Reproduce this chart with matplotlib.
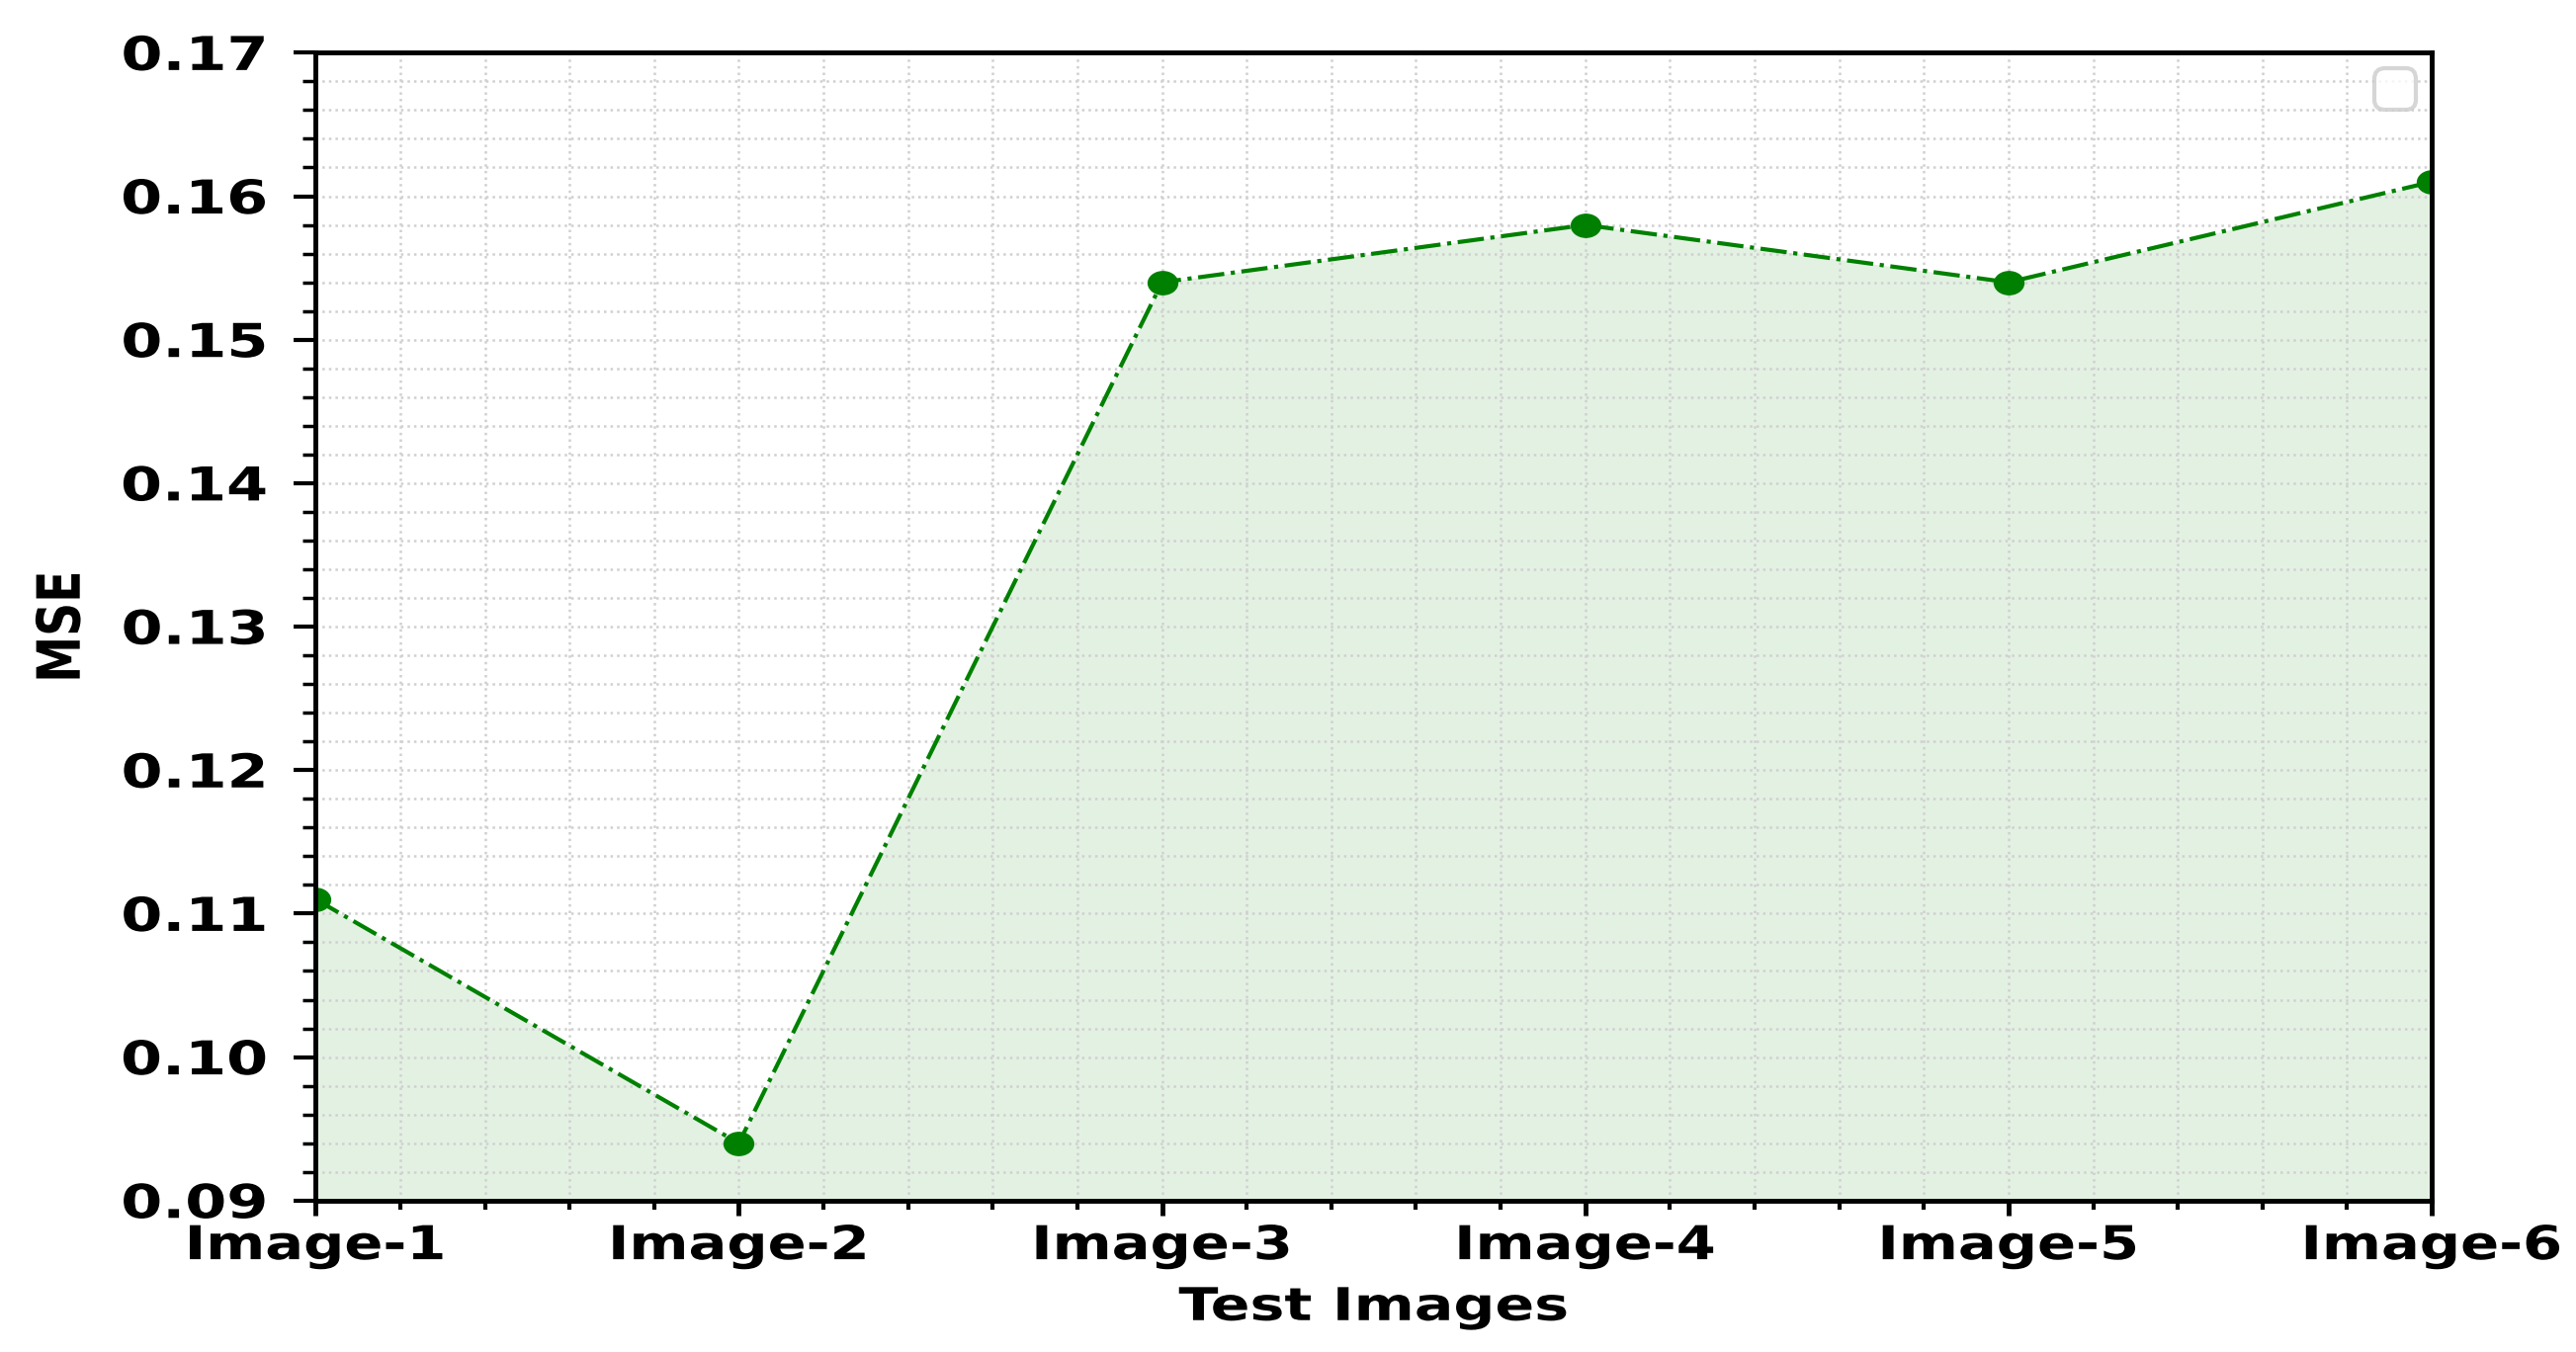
import numpy as np
import matplotlib
matplotlib.use('Agg')
import matplotlib.pyplot as plt
from matplotlib.ticker import AutoMinorLocator, MultipleLocator
from matplotlib.patheffects import AbstractPathEffect
from matplotlib.transforms import Affine2D
from matplotlib.path import Path

# 数据
images = ['Image-1', 'Image-2', 'Image-3', 'Image-4', 'Image-5', 'Image-6']
mse = [0.111, 0.094, 0.154, 0.158, 0.154, 0.161]

STRETCH = 1.28  # 原图文字被横向拉宽


class Stretch(AbstractPathEffect):
    """在文字自身坐标系里拉伸字形"""
    def __init__(self, sx=1.0, sy=1.0, anchor='center'):
        super().__init__()
        self.sx, self.sy, self.anchor = sx, sy, anchor

    def draw_path(self, renderer, gc, tpath, affine, rgbFace=None):
        ext = tpath.get_extents()
        if self.anchor == 'right':
            cx = ext.x1
        elif self.anchor == 'left':
            cx = ext.x0
        else:
            cx = (ext.x0 + ext.x1) / 2
        cy = (ext.y0 + ext.y1) / 2
        t = (Affine2D().translate(-cx, -cy).scale(self.sx, self.sy)
             .translate(cx, cy)) + affine
        renderer.draw_path(gc, tpath, t, rgbFace)


x = np.arange(len(images))

fig, ax = plt.subplots(figsize=(26.06, 13.68), dpi=100)
fig.subplots_adjust(left=0.1225, right=0.944, top=0.961, bottom=0.112)

# 横向拉宽的圆点
ellipse = Path.unit_circle().transformed(Affine2D().scale(STRETCH, 1.0))

ax.plot(x, mse, linestyle='-.', color='green', linewidth=3,
        marker=ellipse, markersize=21.5)
ax.fill_between(x, mse, 0.09, color='green', alpha=0.11, linewidth=0)

ax.set_xlim(0, 5)
ax.set_ylim(0.09, 0.17)
ax.set_xticks(x)
ax.set_xticklabels(images)
ax.yaxis.set_major_locator(MultipleLocator(0.01))
ax.yaxis.set_minor_locator(AutoMinorLocator(5))
ax.xaxis.set_minor_locator(AutoMinorLocator(5))

ax.grid(True, which='both', linestyle=':', color='#d0d0d0', linewidth=1.8)

ax.tick_params(axis='both', which='both', labelsize=34)
ax.tick_params(axis='y', which='major', length=16, width=3, pad=19)
ax.tick_params(axis='y', which='minor', length=9.5, width=2.5)
ax.tick_params(axis='x', which='major', length=11, width=3.5, pad=6.5)
ax.tick_params(axis='x', which='minor', length=6.5, width=3)

plt.setp(ax.get_yticklabels(), fontweight='bold',
         path_effects=[Stretch(sx=STRETCH, anchor='right')])
plt.setp(ax.get_xticklabels(), fontweight='bold',
         path_effects=[Stretch(sx=1.22)])

for sp in ax.spines.values():
    sp.set_linewidth(3.5)

ax.set_xlabel('Test Images', fontsize=33, fontweight='bold', labelpad=12,
              path_effects=[Stretch(sx=STRETCH)])
ax.set_ylabel('MSE', fontsize=34, fontweight='bold',
              path_effects=[Stretch(sy=STRETCH)])
ax.yaxis.set_label_coords(-0.109, 0.5)

# 空图例（原图右上角的小框）
leg = ax.legend(loc='upper right', fontsize=38, borderaxespad=0.3)
leg.get_frame().set_linewidth(3)

plt.savefig('out.png', dpi=100)
